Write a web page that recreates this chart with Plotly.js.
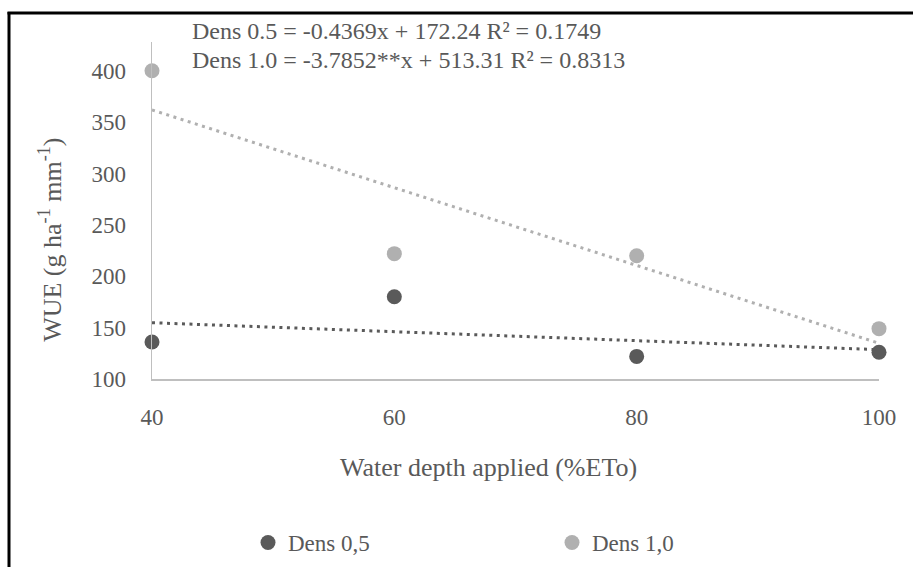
<!DOCTYPE html>
<html>
<head>
<meta charset="utf-8">
<script src="https://cdn.plot.ly/plotly-3.0.1.min.js"></script>
<style>
  html, body { margin: 0; padding: 0; background: #fff; }
  #chart { width: 913px; height: 567px; }
</style>
</head>
<body>
<div id="chart"></div>
<script>
// ---- data ----
var waterDepth = [40, 60, 80, 100];           // %ETo
var wueDens05 = [136, 180, 122, 126];         // g ha-1 mm-1
var wueDens10 = [400, 222, 220, 149];
var seriesNames = ['Dens 0,5', 'Dens 1,0'];
// fitted trendline coefficients (slope, intercept) as printed on the chart
var trendDens05 = [-0.4369, 172.24];
var trendDens10 = [-3.7852, 513.31];
var equationTexts = [
  'Dens 0.5 = -0.4369x + 172.24 R² = 0.1749',
  'Dens 1.0 = -3.7852**x + 513.31 R² = 0.8313'
];
var xTicks = [40, 60, 80, 100];
var yTicks = [100, 150, 200, 250, 300, 350, 400];

var FONT = 'Liberation Serif, Times New Roman, serif';
var TXT = '#595959';
var DARK = '#5a5a5a';
var LIGHT = '#b0b0b0';

function trendY(coef, xs) { return xs.map(function (x) { return coef[0] * x + coef[1]; }); }
var trendX = [waterDepth[0], waterDepth[waterDepth.length - 1]];

var traces = [
  {
    x: trendX, y: trendY(trendDens05, trendX), mode: 'lines', showlegend: false,
    line: { color: DARK, width: 3, dash: '3px,4.5px' }, hoverinfo: 'skip', cliponaxis: false
  },
  {
    x: trendX, y: trendY(trendDens10, trendX), mode: 'lines', showlegend: false,
    line: { color: LIGHT, width: 3, dash: '3px,4.5px' }, hoverinfo: 'skip', cliponaxis: false
  },
  {
    x: waterDepth, y: wueDens05, name: seriesNames[0], mode: 'markers', cliponaxis: false,
    marker: { color: DARK, size: 15, line: { width: 0 } }
  },
  {
    x: waterDepth, y: wueDens10, name: seriesNames[1], mode: 'markers', cliponaxis: false,
    marker: { color: LIGHT, size: 15, line: { width: 0 } }
  }
];

// plot area geometry (px) used to place free text in paper coordinates
var L = 152, R = 879, T = 42, B = 379.3;
var PW = R - L, PH = B - T;
function px2x(p) { return (p - L) / PW; }
function px2y(p) { return (B - p) / PH; }

var layout = {
  width: 913, height: 567,
  margin: { l: L, r: 913 - R, t: T, b: 567 - B, pad: 0, autoexpand: false },
  paper_bgcolor: '#ffffff', plot_bgcolor: '#ffffff',
  font: { family: FONT, color: TXT, size: 23 },
  showlegend: true,
  xaxis: {
    range: [40, 100], tickvals: xTicks, ticktext: xTicks.map(String),
    showline: true, linecolor: '#bfbfbf', linewidth: 1.5, mirror: false,
    showgrid: false, zeroline: false, ticks: '', automargin: false,
    tickfont: { family: FONT, size: 23, color: TXT }, ticklabelstandoff: 17
  },
  yaxis: {
    range: [100, 428], tickvals: yTicks, ticktext: yTicks.map(String),
    showline: true, linecolor: '#bfbfbf', linewidth: 1.5, automargin: false,
    showgrid: false, zeroline: false, ticks: '',
    tickfont: { family: FONT, size: 23, color: TXT }, ticklabelstandoff: 20
  },
  legend: {
    orientation: 'h', x: px2x(248), xanchor: 'left', y: px2y(543), yanchor: 'middle',
    font: { family: FONT, size: 23, color: TXT }, entrywidth: 259, entrywidthmode: 'pixels',
    bgcolor: 'rgba(0,0,0,0)'
  },
  annotations: [
    { xref: 'paper', yref: 'paper', x: px2x(190), y: px2y(31), xanchor: 'left', yanchor: 'middle',
      text: equationTexts[0], showarrow: false, font: { family: FONT, size: 24, color: TXT } },
    { xref: 'paper', yref: 'paper', x: px2x(190), y: px2y(60), xanchor: 'left', yanchor: 'middle',
      text: equationTexts[1], showarrow: false, font: { family: FONT, size: 24, color: TXT } },
    { xref: 'paper', yref: 'paper', x: px2x(488), y: px2y(468), xanchor: 'center', yanchor: 'middle',
      text: 'Water depth applied (%ETo)', showarrow: false, font: { family: FONT, size: 26, color: TXT } },
    { xref: 'paper', yref: 'paper', x: px2x(51), y: px2y(240), xanchor: 'center', yanchor: 'middle',
      textangle: -90, text: 'WUE (g ha<sup>-1</sup> mm<sup>-1</sup>)', showarrow: false,
      font: { family: FONT, size: 26, color: TXT } }
  ],
  shapes: [
    { type: 'line', xref: 'paper', yref: 'paper', x0: px2x(9), x1: px2x(9), y0: px2y(12), y1: px2y(600),
      line: { color: '#000000', width: 3 } },
    { type: 'line', xref: 'paper', yref: 'paper', x0: px2x(7.5), x1: px2x(950), y0: px2y(13), y1: px2y(13),
      line: { color: '#000000', width: 3 } }
  ]
};

Plotly.newPlot('chart', traces, layout, { staticPlot: true, displayModeBar: false });
</script>
</body>
</html>
